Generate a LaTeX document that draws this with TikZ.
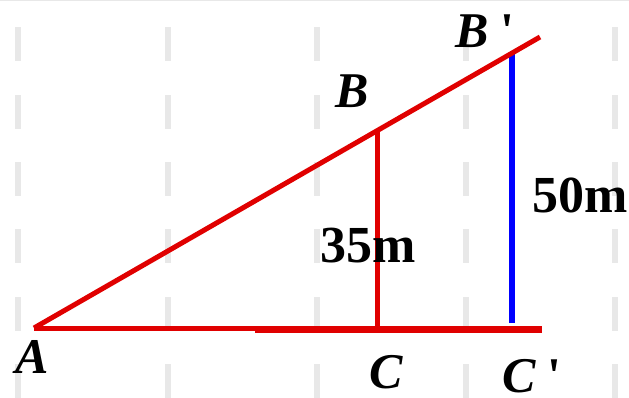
\documentclass[tikz,border=0pt]{standalone}
\usepackage{fontspec}
\setmainfont{Liberation Serif}
\usepackage{xcolor}
\usepackage{tikz}
\usetikzlibrary{positioning}

\definecolor{linered}{HTML}{E00000}
\definecolor{lineblue}{HTML}{0000FF}
\definecolor{dashgrey}{HTML}{E8E8E8}

\begin{document}
\begin{tikzpicture}[
    x=1pt, y=-1pt,
    gridmark/.style={dashgrey, line width=6pt},
    side/.style={linered, line width=5pt},
    pole/.style={lineblue, line width=5.5pt},
    point/.style={inner sep=0pt, anchor=base, font=\fontsize{50}{60}\selectfont\bfseries\itshape},
    length/.style={inner sep=0pt, anchor=base, font=\fontsize{52}{62}\selectfont\bfseries}
]

\useasboundingbox (0,0) rectangle (629,398);
\draw[dashgrey, line width=1.5pt] (0,0.75) -- (629,0.75);

% background marks
\foreach \gx in {18,168,317,466,615}
  \foreach \gy in {27,95,162,229,297,364}
    \draw[gridmark] (\gx,\gy) -- (\gx,\gy+34);

\coordinate (A) at (34,328);
\coordinate (B) at (377,131);
\coordinate (C) at (377,328);
\coordinate (B') at (512,53);
\coordinate (C') at (512,323);
\coordinate (Btail) at (540,37);
\coordinate (Ctail) at (542,328);
\coordinate (Cbar) at (255,329);

\draw[pole] (B') -- (C');
\draw[side] (A) -- (Ctail);
\draw[linered, line width=7pt] (Cbar) -- (Ctail |- Cbar);
\draw[side] (A) -- (Btail);
\draw[side] (B) -- (C);

\node[point] (labA) at (32,373) {A};
\node[point] (labB) at (352,108) {B};
\node[point] (labB') at (485,48) {B {\upshape\textquotesingle}};
\node[point] (labC) at (386,388) {C};
\node[point] (labC') at (532,392) {C {\upshape\textquotesingle}};

\node[length] (h35) at (368,262) {35m};
\node[length] (h50) at (580,213) {50m};

\end{tikzpicture}
\end{document}
